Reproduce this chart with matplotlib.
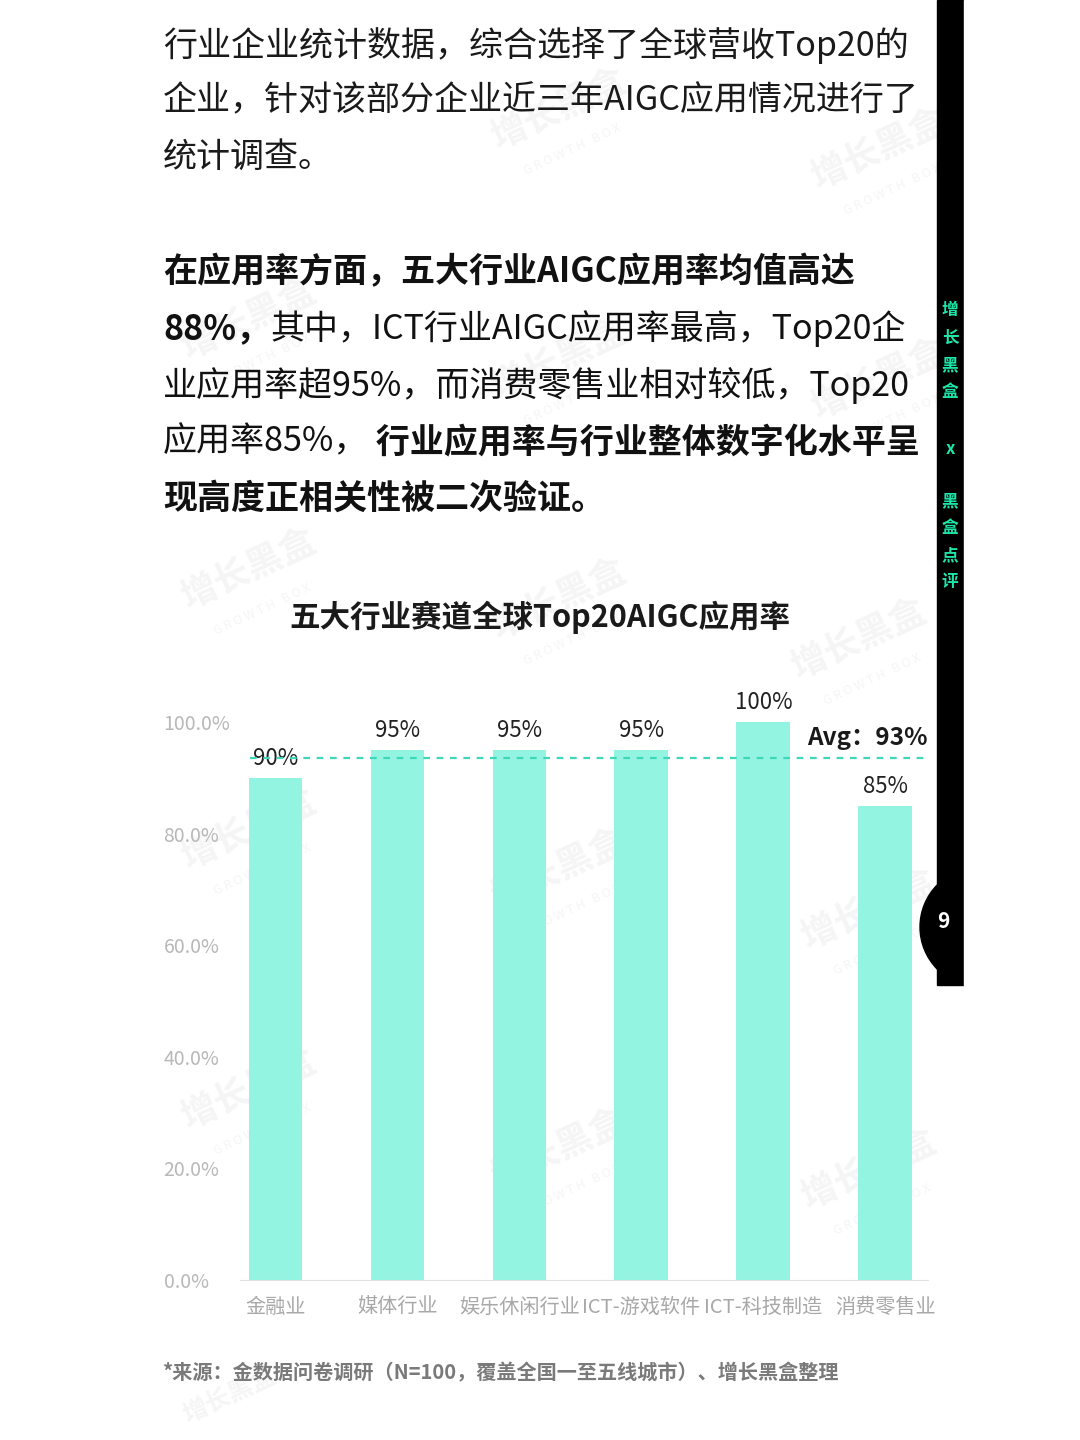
import matplotlib.pyplot as plt
from matplotlib.patches import Rectangle, Ellipse

plt.rcParams['font.family'] = ['Noto Sans CJK SC', 'DejaVu Sans']

# 数据
categories = ['金融业', '媒体行业', '娱乐休闲行业', 'ICT-游戏软件', 'ICT-科技制造', '消费零售业']
rates = [90, 95, 95, 95, 100, 85]
avg_rate = 93
yticks = [0, 20, 40, 60, 80, 100]
ytick_labels = ['0.0%', '20.0%', '40.0%', '60.0%', '80.0%', '100.0%']

title = '五大行业赛道全球Top20AIGC应用率'
source = '*来源：金数据问卷调研（N=100，覆盖全国一至五线城市）、增长黑盒整理'
intro_lines = ['行业企业统计数据，综合选择了全球营收Top20的',
               '企业，针对该部分企业近三年AIGC应用情况进行了',
               '统计调查。']
# (文本, 是否加粗)
para_lines = [
    [('在应用率方面，五大行业AIGC应用率均值高达', True)],
    [('88%，', True), ('其中，ICT行业AIGC应用率最高，Top20企', False)],
    [('业应用率超95%，而消费零售业相对较低，Top20', False)],
    [('应用率85%，', False), (' 行业应用率与行业整体数字化水平呈', True)],
    [('现高度正相关性被二次验证。', True)],
]
side_text = ['增', '长', '黑', '盒', 'x', '黑', '盒', '点', '评']

W, H = 1080, 1440
bar_color = '#93f5e1'
line_color = '#3cd8b8'

fig = plt.figure(figsize=(W / 100, H / 100), dpi=100)
fig.patch.set_facecolor('white')
renderer = fig.canvas.get_renderer()


def fx(px):
    return px / W


def fy(py):
    return 1 - py / H


# 水印
for wx, wy in [(250, 570), (560, 600), (860, 640), (250, 830), (560, 870), (870, 910),
               (250, 1090), (560, 1150), (870, 1170), (560, 110), (880, 150),
               (250, 320), (560, 360), (880, 380)]:
    fig.text(fx(wx), fy(wy), '增长黑盒', fontsize=26, color='#f5f5f5', rotation=25,
             ha='center', va='center', weight='bold', zorder=-2)
    fig.text(fx(wx + 12), fy(wy + 40), 'G R O W T H   B O X', fontsize=9, color='#f5f5f5',
             rotation=25, ha='center', va='center', zorder=-2)
fig.text(fx(230), fy(1395), '增长黑盒', fontsize=18, color='#f5f5f5', rotation=25,
         ha='center', va='center', weight='bold', zorder=-2)

# 顶部段落
for i, line in enumerate(intro_lines):
    fig.text(fx(163), fy(45 + i * 56), line, fontsize=24.5, color='#1a1a1a', va='center')


def draw_runs(y, parts, x0=163):
    x = x0
    for txt, bold in parts:
        t = fig.text(fx(x), fy(y), txt, fontsize=24.5, color='#111111', va='center',
                     weight='bold' if bold else 'normal')
        bb = t.get_window_extent(renderer=renderer)
        x += bb.width


for i, parts in enumerate(para_lines):
    draw_runs(272 + i * 56.5, parts)

# 标题
fig.text(0.5, fy(617), title, fontsize=22, weight='bold', color='#1a1a1a',
         ha='center', va='center')

# 图表
ax = fig.add_axes([fx(240), fy(1280), fx(928 - 240), (1280 - 694) / H])
x = list(range(len(categories)))
bars = ax.bar(x, rates, width=0.44, color=bar_color, zorder=2)
ax.set_xlim(-0.29, 5.35)
ax.set_ylim(0, 105)
for b, v in zip(bars, rates):
    ax.annotate(f'{v}%', (b.get_x() + b.get_width() / 2, v), xytext=(0, 14),
                textcoords='offset points', ha='center', va='center',
                fontsize=16, color='#222222')
ax.axhline(avg_rate + 0.5, xmin=0.015, xmax=1.0, color=line_color, linestyle=(0, (3, 3)),
           linewidth=1.6, zorder=3)
ax.text(5.35, 97.2, f'Avg：{avg_rate}%', ha='right', va='center', fontsize=17.5,
        weight='bold', color='#1a1a1a')

ax.set_yticks(yticks)
ax.set_yticklabels(ytick_labels, ha='left')
ax.tick_params(axis='y', length=0, pad=55, labelsize=14, labelcolor='#b8b8b8')
ax.set_xticks(x)
ax.set_xticklabels(categories)
ax.tick_params(axis='x', length=0, pad=12, labelsize=14.5, labelcolor='#a8a8a8')
for s in ['top', 'right', 'left']:
    ax.spines[s].set_visible(False)
ax.spines['bottom'].set_color('#e2e2e2')
ax.set_facecolor('none')

# 来源
fig.text(fx(163), fy(1373), source, fontsize=14.5, color='#7a7a7a', weight='bold', va='center')

# 右侧黑条
fig.patches.append(Rectangle((fx(937), fy(985)), fx(964 - 937), 985 / H,
                             transform=fig.transFigure, color='black', zorder=5))
fig.patches.append(Ellipse((fx(980), fy(927)), 120 / W, 120 / H, transform=fig.transFigure,
                           color='black', zorder=5))
fig.patches.append(Rectangle((fx(964), 0), fx(W - 964), 1, transform=fig.transFigure,
                             color='white', zorder=6))
fig.text(fx(943), fy(922), '9', fontsize=15, weight='bold', color='white',
         ha='center', va='center', zorder=7)
side_y = [310, 338, 365, 392, 449, 501, 528, 555, 582]
for ch, sy in zip(side_text, side_y):
    fig.text(fx(950), fy(sy), ch, fontsize=12, weight='bold', color='#1de6a8',
             ha='center', va='center', zorder=7)

fig.savefig('out.png', dpi=100, facecolor='white')
